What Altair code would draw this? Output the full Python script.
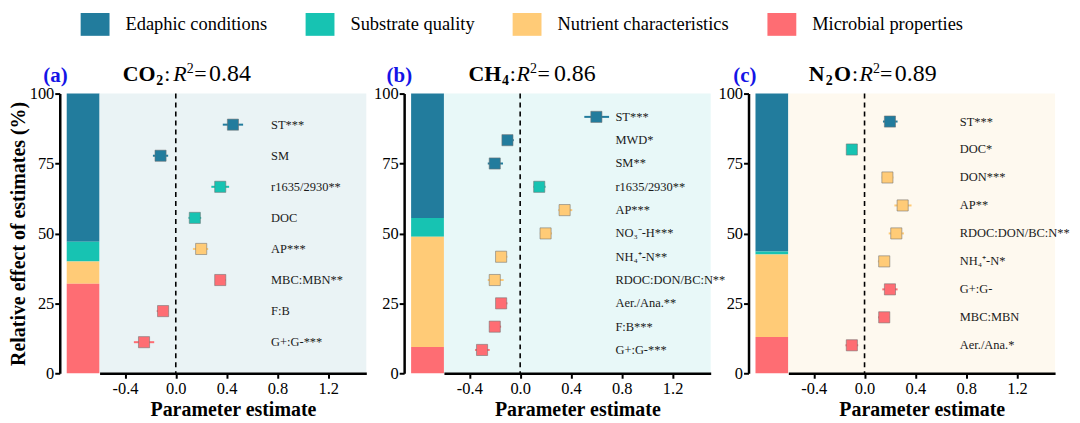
import altair as alt
import pandas as pd

SERIF = "Liberation Serif, Times New Roman, serif"

GROUPS = ["Edaphic conditions", "Substrate quality", "Nutrient characteristics", "Microbial properties"]
COLORS = ["#227C9D", "#17C3B2", "#FFCB77", "#FE6D73"]
STACK_ORDER = [3, 2, 1, 0]  # Microbial at the bottom, Edaphic on top

# Relative effect of estimates (%) per group: Edaphic, Substrate, Nutrient, Microbial
SHARE_A = [53.0, 7.0, 8.0, 32.0]
SHARE_B = [44.5, 6.7, 39.4, 9.4]
SHARE_C = [56.5, 1.0, 29.5, 13.0]

# Panel (a) CO2
VARS_A = ["ST***", "SM", "r1635/2930**", "DOC", "AP***", "MBC:MBN**", "F:B", "G+:G-***"]
GRP_A = [0, 0, 1, 1, 2, 3, 3, 3]
EST_A = [0.45, -0.12, 0.35, 0.15, 0.20, 0.35, -0.10, -0.25]
LO_A = [0.37, -0.18, 0.28, 0.10, 0.135, 0.31, -0.15, -0.33]
HI_A = [0.53, -0.06, 0.42, 0.20, 0.255, 0.395, -0.06, -0.17]

# Panel (b) CH4
VARS_B = ["ST***", "MWD*", "SM**", "r1635/2930**", "AP***", "NO\u2083\u207b-H***", "NH\u2084\u207a-N**",
          "RDOC:DON/BC:N**", "Aer./Ana.**", "F:B***", "G+:G-***"]
GRP_B = [0, 0, 0, 1, 2, 2, 2, 2, 3, 3, 3]
EST_B = [0.60, -0.10, -0.20, 0.15, 0.35, 0.20, -0.15, -0.20, -0.15, -0.20, -0.30]
LO_B = [0.505, -0.14, -0.255, 0.105, 0.30, 0.155, -0.19, -0.255, -0.19, -0.24, -0.355]
HI_B = [0.70, -0.05, -0.135, 0.20, 0.41, 0.25, -0.10, -0.13, -0.10, -0.15, -0.24]

# Panel (c) N2O
VARS_C = ["ST***", "DOC*", "DON***", "AP**", "RDOC:DON/BC:N**", "NH\u2084\u207a-N*", "G+:G-",
          "MBC:MBN", "Aer./Ana.*"]
GRP_C = [0, 1, 2, 2, 2, 2, 3, 3, 3]
EST_C = [0.20, -0.10, 0.18, 0.30, 0.25, 0.155, 0.20, 0.155, -0.10]
LO_C = [0.145, -0.14, 0.135, 0.235, 0.19, 0.105, 0.14, 0.107, -0.15]
HI_C = [0.26, -0.06, 0.227, 0.37, 0.31, 0.195, 0.26, 0.195, -0.05]

TAGS = ["(a)", "(b)", "(c)"]
R2 = ["0.84", "0.86", "0.89"]
BGS = ["#EAF3F5", "#E8F8F8", "#FEF9EF"]

# Title pieces per panel: (text, x offset, dy, size, weight, style)
TITLES = [
    [("CO", 23.3, 0, 22, "bold", "normal"), ("2", 57.0, 4, 14, "bold", "normal"),
     (":", 65.0, 0, 22, "normal", "normal"), ("R", 74.0, 0, 22, "normal", "italic"),
     ("2", 87.5, -8, 14, "normal", "normal"), ("=", 95.0, 0, 22, "normal", "normal"),
     (R2[0], 110.0, 0, 24, "normal", "normal")],
    [("CH", 24.7, 0, 22, "bold", "normal"), ("4", 58.2, 4, 14, "bold", "normal"),
     (":", 66.0, 0, 22, "normal", "normal"), ("R", 73.0, 0, 22, "normal", "italic"),
     ("2", 86.5, -8, 14, "normal", "normal"), ("=", 94.0, 0, 22, "normal", "normal"),
     (R2[1], 110.5, 0, 24, "normal", "normal")],
    [("N", 20.6, 0, 22, "bold", "normal"), ("2", 37.5, 4, 14, "bold", "normal"),
     ("O", 46.0, 0, 22, "bold", "normal"), (":", 64.0, 0, 22, "normal", "normal"),
     ("R", 71.5, 0, 22, "normal", "italic"), ("2", 85.0, -8, 14, "normal", "normal"),
     ("=", 92.0, 0, 22, "normal", "normal"), (R2[2], 107.0, 0, 24, "normal", "normal")],
]

X_TICKS = [-0.4, 0.0, 0.4, 0.8, 1.2]
LABEL_X = 0.75

BAR_W = 33
FOREST_W = 268
GAP_W = 45
PLOT_H = 281
TITLE_Y = -13

cscale = alt.Scale(domain=GROUPS, range=COLORS)


def text_piece(txt, x, y, size, weight="normal", style="normal", align="left", color="black"):
    return alt.Chart(pd.DataFrame({"t": [txt]})).mark_text(
        align=align, baseline="alphabetic", font=SERIF, fontSize=size,
        fontWeight=weight, fontStyle=style, color=color,
    ).encode(text="t:N", x=alt.value(x), y=alt.value(y))


def bar_chart(share, tag, first):
    df = pd.DataFrame({"panel": [tag] * 4, "group": GROUPS, "share": share, "ord": STACK_ORDER})
    legend = None
    if first:
        legend = alt.Legend(
            orient="none", direction="horizontal", columns=4, title=None,
            legendX=14, legendY=-84,
            symbolType="M-1,-0.79H1V0.79H-1Z", symbolSize=841, symbolStrokeWidth=0,
            symbolOpacity=1, labelFont=SERIF, labelFontSize=18.5, labelColor="black",
            labelOffset=16, columnPadding=38, labelLimit=400,
        )
    yaxis = alt.Axis(
        values=[0, 25, 50, 75, 100], offset=7,
        title="Relative effect of estimates (%)" if first else None,
        titlePadding=1, labelPadding=1,
    )
    bars = alt.Chart(df).mark_bar().encode(
        x=alt.X("panel:N", axis=None, scale=alt.Scale(paddingInner=0, paddingOuter=0)),
        y=alt.Y("share:Q", stack="zero", scale=alt.Scale(domain=[0, 100], nice=False), axis=yaxis),
        color=alt.Color("group:N", scale=cscale, legend=legend),
        order=alt.Order("ord:Q"),
    )
    tag_txt = text_piece(tag, 1, -12, 21, weight="bold", align="right", color="#1414E6")
    return alt.layer(bars, tag_txt).properties(
        width=BAR_W, height=PLOT_H, view=alt.ViewBackground(stroke=None)
    )


def forest_chart(vars_, grp, est, lo, hi, title_spec, bg):
    df = pd.DataFrame({
        "var": vars_, "group": [GROUPS[g] for g in grp], "est": est, "lo": lo, "hi": hi,
    })
    xs = alt.Scale(domain=[-0.6, 1.5], nice=False, zero=False)
    xa = alt.Axis(
        values=X_TICKS, title="Parameter estimate", labelPadding=2, titlePadding=3,
        labelExpr="datum.value < 0 ? '-' + format(-datum.value, '.1f') : format(datum.value, '.1f')",
    )
    ys = alt.Scale(type="point", padding=1, domain=vars_)
    yenc = alt.Y("var:N", scale=ys, axis=None)

    zero = alt.Chart(pd.DataFrame({"z": [0.0]})).mark_rule(
        strokeDash=[5, 4], strokeWidth=1.6, color="black"
    ).encode(x=alt.X("z:Q", scale=xs, axis=xa))
    bars = alt.Chart(df).mark_rule(strokeWidth=2).encode(
        x=alt.X("lo:Q", scale=xs, axis=xa), x2="hi:Q", y=yenc,
        color=alt.Color("group:N", scale=cscale, legend=None),
    )
    pts = alt.Chart(df).mark_square(
        size=125, opacity=1, filled=True, stroke="#707070", strokeWidth=0.8, strokeOpacity=0.7
    ).encode(
        x=alt.X("est:Q", scale=xs, axis=xa), y=yenc,
        color=alt.Color("group:N", scale=cscale, legend=None),
    )
    labels = alt.Chart(df).mark_text(
        align="left", baseline="middle", font=SERIF, fontSize=12.5, color="#1a1a1a"
    ).encode(x=alt.datum(LABEL_X), y=yenc, text="var:N")

    title = [
        text_piece(t, x, TITLE_Y + dy, size, weight=w, style=s)
        for (t, x, dy, size, w, s) in title_spec
    ]
    return alt.layer(zero, bars, pts, labels, *title).properties(
        width=FOREST_W, height=PLOT_H, view=alt.ViewBackground(fill=bg, stroke=None)
    )


def spacer():
    return alt.Chart(pd.DataFrame({"s": [0]})).mark_point(opacity=0).properties(
        width=GAP_W, height=PLOT_H, view=alt.ViewBackground(stroke=None)
    )


panels = [
    (SHARE_A, VARS_A, GRP_A, EST_A, LO_A, HI_A),
    (SHARE_B, VARS_B, GRP_B, EST_B, LO_B, HI_B),
    (SHARE_C, VARS_C, GRP_C, EST_C, LO_C, HI_C),
]

cells = []
for i, (share, v, g, e, lo, hi) in enumerate(panels):
    if i > 0:
        cells.append(spacer())
    cells.append(bar_chart(share, TAGS[i], i == 0))
    cells.append(forest_chart(v, g, e, lo, hi, TITLES[i], BGS[i]))

chart = alt.hconcat(*cells, spacing=0, bounds="flush").properties(
    padding={"left": 0, "top": 1, "right": 2, "bottom": 2}
).configure_view(stroke=None).configure_axis(
    grid=False, domainColor="black", domainWidth=2.5, tickColor="black", tickWidth=2,
    tickSize=5, labelFont=SERIF, labelFontSize=16.5, labelColor="black",
    titleFont=SERIF, titleFontSize=20, titleFontWeight="bold", titleColor="black",
)

chart.save("out.html", embed_options={"renderer": "svg", "actions": False})
